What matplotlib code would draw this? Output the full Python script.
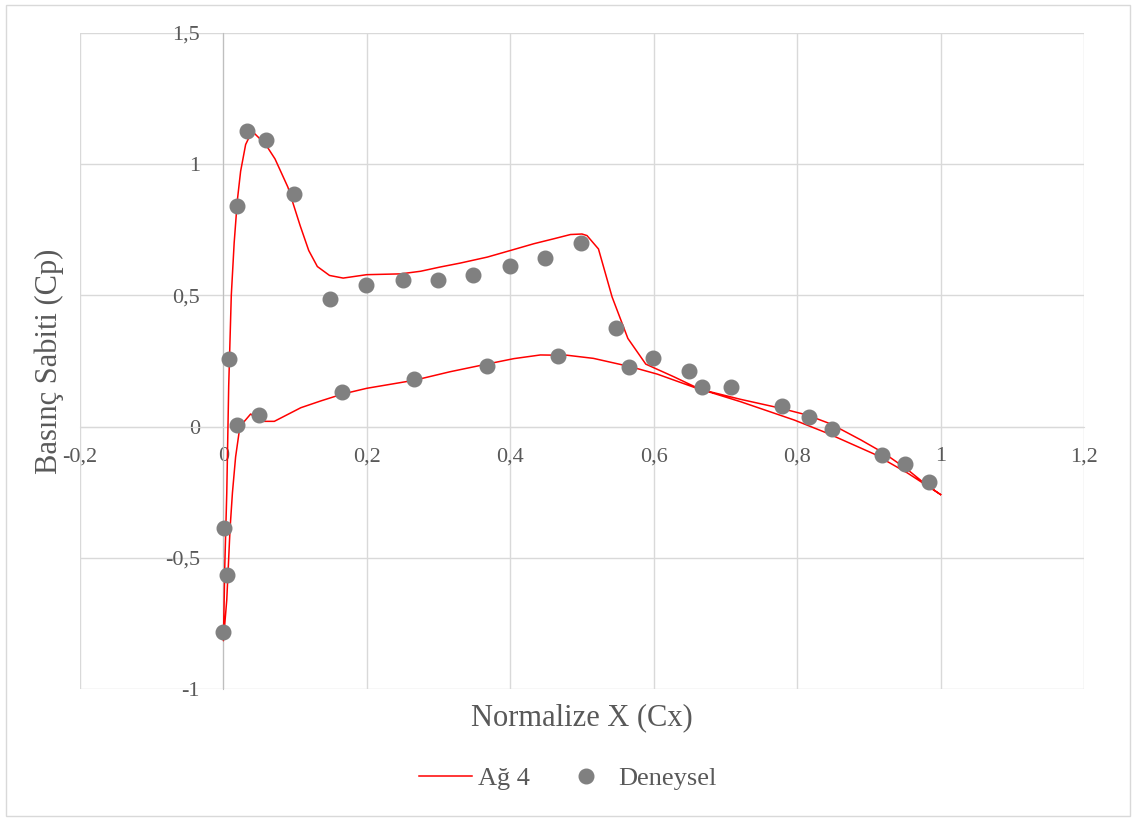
import matplotlib
matplotlib.use('Agg')
import matplotlib.pyplot as plt
from matplotlib.ticker import FuncFormatter
from matplotlib.patches import Rectangle

# CFD sonucu (Ağ 4): firar kenarından üst yüzey boyunca hücum kenarına, sonra alt yüzeyden geri
x_ag4 = [1.000, 0.977, 0.954, 0.921, 0.889, 0.847, 0.814, 0.777, 0.721, 0.665, 0.628, 0.589,
         0.564, 0.542, 0.523, 0.507, 0.500, 0.484, 0.461, 0.433, 0.400, 0.368, 0.330, 0.302,
         0.275, 0.247, 0.200, 0.167, 0.148, 0.131, 0.119, 0.107, 0.090, 0.072, 0.059, 0.043,
         0.037, 0.031, 0.024, 0.0195, 0.015, 0.011, 0.0074, 0.0047, 0.002, 0.0,
         0.0047, 0.0093, 0.0126, 0.017, 0.023, 0.038, 0.052, 0.071, 0.108, 0.136, 0.166, 0.200,
         0.267, 0.316, 0.367, 0.405, 0.442, 0.467, 0.479, 0.516, 0.568, 0.605, 0.656, 0.721,
         0.796, 0.842, 0.907, 0.954, 1.000]
y_ag4 = [-0.259, -0.215, -0.164, -0.101, -0.051, 0.010, 0.044, 0.070, 0.104, 0.142, 0.190, 0.238,
         0.336, 0.494, 0.677, 0.728, 0.734, 0.732, 0.716, 0.697, 0.671, 0.646, 0.623, 0.608,
         0.592, 0.582, 0.579, 0.566, 0.576, 0.610, 0.671, 0.766, 0.912, 1.020, 1.075, 1.118,
         1.109, 1.075, 0.973, 0.864, 0.700, 0.500, 0.156, -0.252, -0.524, -0.816,
         -0.660, -0.388, -0.252, -0.116, 0.000, 0.048, 0.020, 0.020, 0.072, 0.098, 0.124, 0.146,
         0.177, 0.209, 0.238, 0.259, 0.273, 0.272, 0.272, 0.260, 0.228, 0.200, 0.150, 0.095,
         0.025, -0.025, -0.104, -0.177, -0.259]

# Deneysel veriler
x_deney = [0.0, 0.005, 0.0014, 0.019, 0.049, 0.008, 0.019, 0.0335, 0.0595, 0.098, 0.149, 0.199,
           0.250, 0.299, 0.348, 0.399, 0.448, 0.499, 0.548, 0.599, 0.649, 0.667, 0.708, 0.779,
           0.817, 0.849, 0.919, 0.950, 0.984, 0.166, 0.266, 0.367, 0.467, 0.566]
y_deney = [-0.782, -0.567, -0.388, 0.007, 0.046, 0.256, 0.842, 1.127, 1.093, 0.888, 0.488, 0.538,
           0.559, 0.557, 0.577, 0.613, 0.644, 0.700, 0.374, 0.262, 0.213, 0.151, 0.151, 0.080,
           0.035, -0.010, -0.109, -0.143, -0.211, 0.130, 0.181, 0.231, 0.270, 0.228]

x_ticks = [-0.2, 0, 0.2, 0.4, 0.6, 0.8, 1, 1.2]
y_ticks = [-1, -0.5, 0, 0.5, 1, 1.5]

plt.rcParams['font.family'] = ['Liberation Serif', 'DejaVu Serif']
text_color = '#595959'

fig = plt.figure(figsize=(11.36, 8.21), dpi=100)
ax = fig.add_axes([0.0704, 0.1608, 0.8838, 0.799])

ax.plot(x_ag4, y_ag4, color='#ff0000', lw=1.1, label='Ağ 4', zorder=3)
ax.plot(x_deney, y_deney, 'o', color='#808080', ms=10.5, label='Deneysel', zorder=4)

ax.set_xlim(-0.2, 1.2)
ax.set_ylim(-1, 1.5)
ax.set_xticks(x_ticks)
ax.set_yticks(y_ticks)
fmt = FuncFormatter(lambda v, p: '{:g}'.format(round(v, 2)).replace('.', ','))
ax.xaxis.set_major_formatter(fmt)
ax.yaxis.set_major_formatter(fmt)

# eksenler sıfırdan geçsin (Excel gibi)
ax.spines['left'].set_position(('data', 0))
ax.spines['bottom'].set_position(('data', 0))
ax.spines['left'].set_color('#bfbfbf')
ax.spines['bottom'].set_color('#d9d9d9')
ax.spines['top'].set_visible(False)
ax.spines['right'].set_visible(False)
ax.tick_params(length=0, labelsize=16, colors=text_color)
ax.tick_params(axis='x', pad=15)
ax.tick_params(axis='y', pad=17)
ax.grid(True, color='#d9d9d9', lw=1)
ax.set_axisbelow(True)

ax.set_xlabel('Normalize X (Cx)', fontsize=22, color=text_color)
ax.set_ylabel('Basınç Sabiti (Cp)', fontsize=22, color=text_color)
ax.xaxis.set_label_coords(0.5, -0.021)
ax.yaxis.set_label_coords(-0.016, 0.5)

fig.legend(loc='center', bbox_to_anchor=(0.5, 0.052), ncol=2, frameon=False,
           fontsize=19, labelcolor=text_color, columnspacing=1.1, handlelength=2.0,
           handletextpad=0.25)

fig.patches.append(Rectangle((0.005, 0.006), 0.99, 0.988, transform=fig.transFigure,
                             fill=False, edgecolor='#d9d9d9', lw=1))

fig.savefig('out.png', dpi=100)
